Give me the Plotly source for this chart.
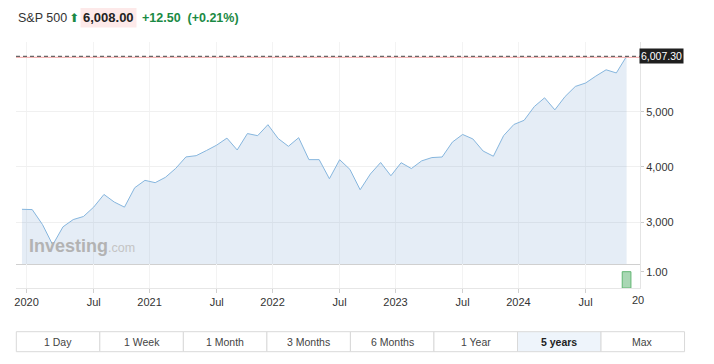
import plotly.graph_objects as go

# ---- data ----
months = [
    "2019-12",
    "2020-01", "2020-02", "2020-03", "2020-04", "2020-05", "2020-06",
    "2020-07", "2020-08", "2020-09", "2020-10", "2020-11", "2020-12",
    "2021-01", "2021-02", "2021-03", "2021-04", "2021-05", "2021-06",
    "2021-07", "2021-08", "2021-09", "2021-10", "2021-11", "2021-12",
    "2022-01", "2022-02", "2022-03", "2022-04", "2022-05", "2022-06",
    "2022-07", "2022-08", "2022-09", "2022-10", "2022-11", "2022-12",
    "2023-01", "2023-02", "2023-03", "2023-04", "2023-05", "2023-06",
    "2023-07", "2023-08", "2023-09", "2023-10", "2023-11", "2023-12",
    "2024-01", "2024-02", "2024-03", "2024-04", "2024-05", "2024-06",
    "2024-07", "2024-08", "2024-09", "2024-10", "2024-11",
]
close = [
    3230.78,
    3225.52, 2954.22, 2584.59, 2912.43, 3044.31, 3100.29,
    3271.12, 3500.31, 3363.00, 3269.96, 3621.63, 3756.07,
    3714.24, 3811.15, 3972.89, 4181.17, 4204.11, 4297.50,
    4395.26, 4522.68, 4307.54, 4605.38, 4567.00, 4766.18,
    4515.55, 4373.94, 4530.41, 4131.93, 4132.15, 3785.38,
    4130.29, 3955.00, 3585.62, 3871.98, 4080.11, 3839.50,
    4076.60, 3970.15, 4109.31, 4169.48, 4179.83, 4450.38,
    4588.96, 4507.66, 4288.05, 4193.80, 4567.80, 4769.83,
    4845.65, 5096.27, 5254.35, 5035.69, 5277.51, 5460.48,
    5522.30, 5648.40, 5762.48, 5705.45, 6007.30,
]
volume_month = ["2024-11"]
volume = [1.0]
y_ticks = [3000, 4000, 5000]
vol_ticks = [1.0]
vol_tick_text = ["1.00"]
last_price = 6007.30
header_name = "S&P 500"
header_price = "6,008.00"
header_change = "+12.50"
header_pct = "(+0.21%)"
buttons = ["1 Day", "1 Week", "1 Month", "3 Months", "6 Months", "1 Year", "5 years", "Max"]
active_button = "5 years"

# ---- layout helpers (page px -> paper), page body has an 8px margin ----
OFF = 8
W, H = 698, 348
ML, MT = 6, 34
PLOT_R, PLOT_B = 632, 280
MR, MB = W - PLOT_R, H - PLOT_B
PW, PH = PLOT_R - ML, PLOT_B - MT
def X(px):
    return (px - OFF - ML) / PW
def Y(py):
    return (PLOT_B - (py - OFF)) / PH

idx = list(range(len(months)))
vol_idx = [months.index(m) for m in volume_month]

# tick positions: January ticks sit a little before the January point, July ticks on the point
tickvals, ticktext = [], []
for i, m in enumerate(months):
    yr, mo = m.split("-")
    if mo == "01":
        tickvals.append(i - 0.55)
        ticktext.append(yr)
    elif mo == "07":
        tickvals.append(i)
        ticktext.append("Jul")

vol_split = 24 / PH
font_fam = "Liberation Sans, Arial, sans-serif"

fig = go.Figure()
fig.add_trace(go.Scatter(
    x=idx, y=close, mode="lines",
    line=dict(color="#86b6de", width=1),
    fill="tozeroy", fillcolor="rgba(100,150,200,0.17)",
    xaxis="x", yaxis="y", hoverinfo="skip",
))
fig.add_trace(go.Bar(
    x=vol_idx, y=volume, width=0.85,
    marker=dict(color="#a9d7b4", line=dict(color="#62b673", width=1)),
    xaxis="x2", yaxis="y2", hoverinfo="skip",
))

xr = [-0.584, 60.31]
fig.update_layout(
    width=W, height=H,
    margin=dict(l=ML, r=MR, t=MT, b=MB),
    paper_bgcolor="white", plot_bgcolor="white",
    showlegend=False,
    font=dict(family=font_fam, size=11, color="#333"),
    xaxis=dict(domain=[0, 1], anchor="y", range=xr, tickvals=tickvals,
               showticklabels=False, showgrid=True, gridcolor="#f3f3f3",
               showline=True, linecolor="#d0d0d0", linewidth=1.2,
               zeroline=False, ticks=""),
    xaxis2=dict(domain=[0, 1], anchor="y2", range=xr, matches="x",
                tickvals=tickvals, ticktext=ticktext,
                showgrid=True, gridcolor="#f3f3f3",
                showline=True, linecolor="#e6e6e6", linewidth=1,
                ticks="outside", ticklen=4, tickcolor="#d0d0d0",
                tickfont=dict(size=11, color="#333"), zeroline=False),
    yaxis=dict(domain=[vol_split, 1], anchor="x", side="right",
               range=[2238, 6267], tickvals=y_ticks, tickformat=",",
               showgrid=True, gridcolor="#f0f0f0", zeroline=False,
               showline=True, linecolor="#e4e4e4", linewidth=1,
               ticks="outside", ticklen=3, tickcolor="#cccccc",
               tickfont=dict(size=11, color="#333")),
    yaxis2=dict(domain=[0, vol_split], anchor="x2", side="right",
                range=[0, 1.472], tickvals=vol_ticks, ticktext=vol_tick_text,
                showgrid=False, zeroline=False,
                showline=True, linecolor="#e4e4e4", linewidth=1,
                ticks="outside", ticklen=3, tickcolor="#cccccc",
                tickfont=dict(size=11, color="#333")),
)

shapes = []
# last price guide lines
shapes.append(dict(type="line", xref="paper", x0=0, x1=1, yref="y",
                   ysizemode="pixel", yanchor=last_price, y0=-1, y1=-1,
                   line=dict(color="#f2a3a3", width=1)))
shapes.append(dict(type="line", xref="paper", x0=0, x1=1, yref="y",
                   y0=last_price, y1=last_price,
                   line=dict(color="#444", width=1, dash="4px,3px")))
# range buttons
bx0, bx1 = 14.3, 684.7
by0, by1 = 331.7, 351.7
bw = (bx1 - bx0) / len(buttons)
annotations = []
for k, b in enumerate(buttons):
    x0 = bx0 + k * bw
    shapes.append(dict(type="rect", xref="paper", yref="paper",
                       x0=X(x0), x1=X(x0 + bw), y0=Y(by1), y1=Y(by0),
                       line=dict(color="#d9d9d9", width=1),
                       fillcolor="#eef4fb" if b == active_button else "white",
                       layer="above"))
    annotations.append(dict(xref="paper", yref="paper", x=X(x0 + bw / 2), y=Y((by0 + by1) / 2),
                            text=("<b>%s</b>" % b) if b == active_button else b,
                            showarrow=False, xanchor="center", yanchor="middle",
                            font=dict(size=10.5, color="#222" if b == active_button else "#444")))

# last price label
annotations.append(dict(xref="paper", yref="y", x=1, y=last_price, xanchor="left", yanchor="middle",
                        text=f"{last_price:,.2f}", showarrow=False, bgcolor="#1f1f1f",
                        borderpad=1, xshift=-1, font=dict(size=10.5, color="white")))
# cut-off 2025 label at the right edge
annotations.append(dict(xref="paper", yref="paper", x=X(629.5), y=Y(299.5), xanchor="left", yanchor="middle",
                        text="20", showarrow=False, font=dict(size=11, color="#333")))
# watermark
annotations.append(dict(xref="paper", yref="paper", x=X(25), y=Y(246), xanchor="left", yanchor="middle",
                        text="<b>Investing</b><span style='font-size:12.5px;color:#c4c4c4'>.com</span>",
                        showarrow=False, font=dict(size=18, color="#b3b3b3", family=font_fam)))
# header
annotations.append(dict(xref="paper", yref="paper", x=X(14.5), y=Y(18), xanchor="left", yanchor="middle",
                        text=header_name, showarrow=False, font=dict(size=12.5, color="#333")))
annotations.append(dict(xref="paper", yref="paper", x=X(65.5), y=Y(18), xanchor="left", yanchor="middle",
                        text="⬆", showarrow=False, font=dict(size=12, color="#1a8a44", family="DejaVu Sans")))
annotations.append(dict(xref="paper", yref="paper", x=X(78), y=Y(18), xanchor="left", yanchor="middle",
                        text="<b>%s</b>" % header_price, showarrow=False, bgcolor="#fde9e9",
                        borderpad=2, font=dict(size=13, color="#222")))
annotations.append(dict(xref="paper", yref="paper", x=X(138.5), y=Y(18), xanchor="left", yanchor="middle",
                        text="<b>%s&nbsp;&nbsp;%s</b>" % (header_change, header_pct), showarrow=False,
                        font=dict(size=12.5, color="#1a8a44")))

fig.update_layout(shapes=shapes, annotations=annotations)
fig.write_html("out.html")
